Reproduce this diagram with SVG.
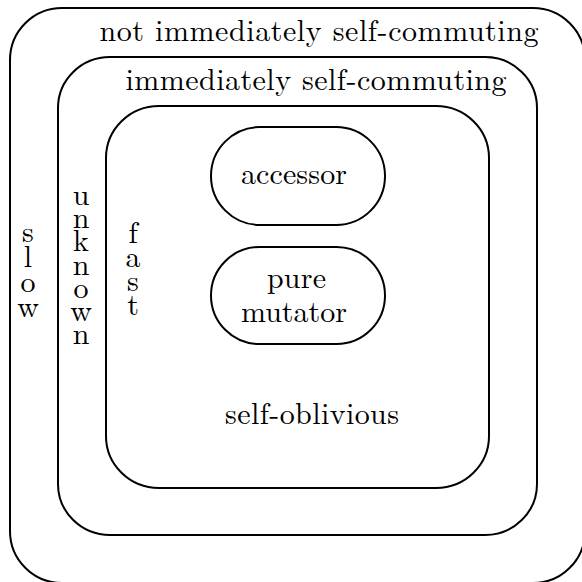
<svg xmlns="http://www.w3.org/2000/svg" width="582" height="582" viewBox="0 0 582 582">
<style>
.box{fill:none;stroke:#000;stroke-width:2}
</style>
<rect width="582" height="582" fill="#fff"/>
<g id="not-immediately-self-commuting">
<rect class="box" x="10" y="8" width="575" height="575" rx="52" ry="52"/>
<text x="99.5" y="41" font-size="30" font-family="'Latin Modern Roman', 'Liberation Serif', serif" textLength="439">not immediately self-commuting</text>
<text x="28" y="242" font-size="30" font-family="'Latin Modern Roman', 'Liberation Serif', serif" text-anchor="middle">s<tspan x="28" dy="25">l</tspan><tspan x="28" dy="25">o</tspan><tspan x="28" dy="25">w</tspan></text>
</g>
<g id="immediately-self-commuting">
<rect class="box" x="58" y="57" width="479" height="478" rx="52" ry="51"/>
<text x="125.5" y="90" font-size="30" font-family="'Latin Modern Roman', 'Liberation Serif', serif" textLength="381">immediately self-commuting</text>
<text x="81" y="205" font-size="30" font-family="'Latin Modern Roman', 'Liberation Serif', serif" text-anchor="middle">u<tspan x="81" dy="23.2">n</tspan><tspan x="81" dy="23.2">k</tspan><tspan x="81" dy="23.2">n</tspan><tspan x="81" dy="23.2">o</tspan><tspan x="81" dy="23.2">w</tspan><tspan x="81" dy="23.2">n</tspan></text>
</g>
<g id="self-oblivious">
<rect class="box" x="106" y="106" width="383" height="382" rx="53" ry="52"/>
<text x="225" y="424" font-size="30" font-family="'Latin Modern Roman', 'Liberation Serif', serif" textLength="174">self-oblivious</text>
<text x="133" y="243" font-size="30" font-family="'Latin Modern Roman', 'Liberation Serif', serif" text-anchor="middle">f<tspan x="133" dy="24">a</tspan><tspan x="133" dy="24">s</tspan><tspan x="133" dy="24">t</tspan></text>
</g>
<g id="accessor">
<rect class="box" x="211" y="127" width="174" height="98" rx="49" ry="49"/>
<text x="241" y="184" font-size="30" font-family="'Latin Modern Roman', 'Liberation Serif', serif" textLength="106">accessor</text>
</g>
<g id="pure-mutator">
<rect class="box" x="211" y="247" width="174" height="97" rx="48.5" ry="48.5"/>
<text x="267" y="288" font-size="30" font-family="'Latin Modern Roman', 'Liberation Serif', serif" textLength="59">pure</text>
<text x="241" y="322" font-size="30" font-family="'Latin Modern Roman', 'Liberation Serif', serif" textLength="106">mutator</text>
</g>
<g id="connectors"></g>
</svg>
